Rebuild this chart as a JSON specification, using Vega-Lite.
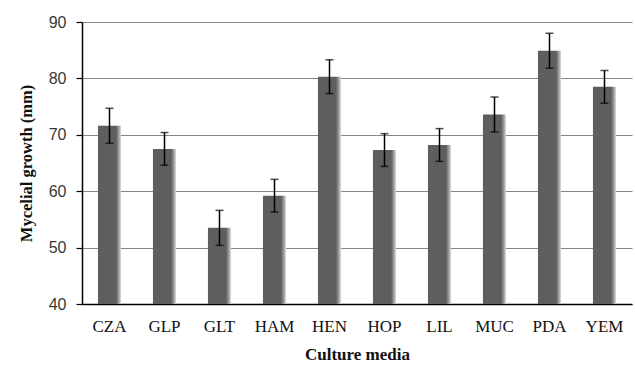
{
  "$schema": "https://vega.github.io/schema/vega-lite/v6.json",
  "autosize": "none",
  "width": 550,
  "height": 282,
  "padding": {"left": 82, "top": 22, "right": 3, "bottom": 61},
  "background": "white",
  "config": {"view": {"stroke": null}},
  "data": {"values": [
    {"media": "CZA", "mean": 71.6, "err": 3.1},
    {"media": "GLP", "mean": 67.5, "err": 2.9},
    {"media": "GLT", "mean": 53.5, "err": 3.1},
    {"media": "HAM", "mean": 59.2, "err": 2.9},
    {"media": "HEN", "mean": 80.3, "err": 3.0},
    {"media": "HOP", "mean": 67.3, "err": 2.9},
    {"media": "LIL", "mean": 68.2, "err": 2.9},
    {"media": "MUC", "mean": 73.6, "err": 3.1},
    {"media": "PDA", "mean": 84.9, "err": 3.1},
    {"media": "YEM", "mean": 78.5, "err": 2.9}
  ]},
  "encoding": {
    "x": {
      "field": "media", "type": "nominal", "sort": null,
      "scale": {"paddingInner": 0.58, "paddingOuter": 0.29},
      "axis": {
        "title": "Culture media", "labelAngle": 0, "ticks": false,
        "domainColor": "black", "domainWidth": 1.5,
        "labelFont": "Liberation Serif", "labelFontSize": 17, "labelColor": "#111",
        "labelPadding": 14,
        "titleFont": "Liberation Serif", "titleFontSize": 17, "titleFontWeight": "bold",
        "titleColor": "#111", "titlePadding": 12
      }
    }
  },
  "layer": [
    {
      "mark": {
        "type": "bar",
        "color": {
          "gradient": "linear", "x1": 0, "x2": 1, "y1": 0, "y2": 0,
          "stops": [
            {"offset": 0, "color": "#5e5e5e"},
            {"offset": 0.78, "color": "#5e5e5e"},
            {"offset": 0.9, "color": "#9a9a9a"},
            {"offset": 1, "color": "#e0e0e0"}
          ]
        }
      },
      "encoding": {
        "y": {
          "field": "mean", "type": "quantitative",
          "title": "Mycelial growth (mm)",
          "scale": {"domain": [40, 90], "nice": false, "zero": false},
          "axis": {
            "title": "Mycelial growth (mm)", "values": [40, 50, 60, 70, 80, 90],
            "grid": true, "gridColor": "#858585", "gridWidth": 1.2,
            "domainColor": "black", "domainWidth": 1.5,
            "tickColor": "black", "tickSize": 6, "tickWidth": 1.2,
            "labelFont": "Liberation Sans", "labelFontSize": 16, "labelColor": "#383838",
            "labelPadding": 10,
            "titleFont": "Liberation Serif", "titleFontSize": 16.5, "titleFontWeight": "bold",
            "titleColor": "#111", "titlePadding": 14
          }
        },
        "y2": {"datum": 40}
      }
    },
    {
      "mark": {"type": "errorbar", "ticks": {"size": 8, "color": "black", "thickness": 1.5}, "rule": {"color": "black", "strokeWidth": 1.5}},
      "encoding": {
        "y": {"field": "mean", "type": "quantitative", "title": "Mycelial growth (mm)"},
        "yError": {"field": "err"}
      }
    }
  ]
}
